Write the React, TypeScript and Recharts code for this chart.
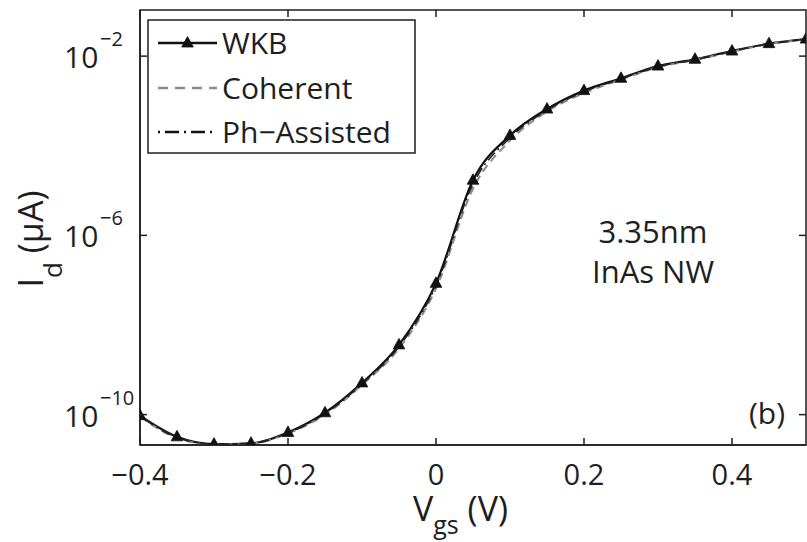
import React from 'react';
import { LineChart, Line, XAxis, YAxis, ReferenceArea } from 'recharts';

// Gate voltage samples (V)
const vgs = [-0.4, -0.35, -0.3, -0.25, -0.2, -0.15, -0.1, -0.05, 0, 0.05, 0.1, 0.15, 0.2, 0.25, 0.3, 0.35, 0.4, 0.45, 0.5];
// Drain current (µA)
const idWkb = [9.5e-11, 3.2e-11, 2.2e-11, 2.3e-11, 4.0e-11, 1.1e-10, 5.1e-10, 3.6e-9, 8.5e-8, 1.7e-5, 1.7e-4, 6.6e-4, 1.7e-3, 3.2e-3, 6.0e-3, 8.5e-3, 1.3e-2, 1.9e-2, 2.4e-2];
const idCoherent = [9.0e-11, 3.0e-11, 2.15e-11, 2.25e-11, 3.8e-11, 1.0e-10, 4.6e-10, 3.0e-9, 6.5e-8, 1.1e-5, 1.3e-4, 5.8e-4, 1.5e-3, 3.0e-3, 5.6e-3, 8.2e-3, 1.25e-2, 1.85e-2, 2.35e-2];
const idPhAssisted = [9.3e-11, 3.1e-11, 2.2e-11, 2.3e-11, 3.9e-11, 1.05e-10, 4.8e-10, 3.3e-9, 7.5e-8, 1.4e-5, 1.5e-4, 6.2e-4, 1.6e-3, 3.1e-3, 5.8e-3, 8.3e-3, 1.28e-2, 1.88e-2, 2.38e-2];

const xTicks = [-0.4, -0.2, 0, 0.2, 0.4];
const xTickLabels = ['\u22120.4', '\u22120.2', '0', '0.2', '0.4'];
const yTicks = [1e-10, 1e-6, 1e-2];
const yTickExponents = ['\u221210', '\u22126', '\u22122'];
const seriesNames = ['WKB', 'Coherent', 'Ph\u2212Assisted'];
const xDomain = [-0.4, 0.5];
const yDomain = [2.1e-11, 1.07e-1];

const data = vgs.map((v, i) => ({ vgs: v, wkb: idWkb[i], coh: idCoherent[i], ph: idPhAssisted[i] }));

const FONT = '"Open Sans", sans-serif';
const INK = '#1e1e1e';
const LEFT = 140, TOP = 10, RIGHT = 806, BOTTOM = 445, TICK = 7;

const Triangle = (props: any) => {
  const { cx, cy } = props;
  if (cx == null || cy == null) return null;
  return <polygon key={`t-${cx}`} points={`${cx},${cy - 6.5} ${cx - 5.8},${cy + 4} ${cx + 5.8},${cy + 4}`} fill="#111" stroke="#111" strokeWidth={0.8} />;
};

const XTick = (props: any) => {
  const { x, payload } = props;
  const idx = xTicks.indexOf(payload.value);
  return (
    <g>
      <line x1={x} x2={x} y1={BOTTOM} y2={BOTTOM - TICK} stroke={INK} strokeWidth={1.5} />
      <line x1={x} x2={x} y1={TOP} y2={TOP + TICK} stroke={INK} strokeWidth={1.5} />
      <text x={x} y={485} textAnchor="middle" fontSize={29} fontFamily={FONT} fill={INK}>{xTickLabels[idx]}</text>
    </g>
  );
};

const YTick = (props: any) => {
  const { y, payload } = props;
  const idx = yTicks.findIndex((t) => Math.abs(Math.log10(t) - Math.log10(payload.value)) < 1e-6);
  return (
    <g>
      <line x1={LEFT} x2={LEFT + TICK} y1={y} y2={y} stroke={INK} strokeWidth={1.5} />
      <line x1={RIGHT} x2={RIGHT - TICK} y1={y} y2={y} stroke={INK} strokeWidth={1.5} />
      <text x={64} y={y + 12} fontSize={30} fontFamily={FONT} fill={INK}>10</text>
      <text x={100} y={y - 10} fontSize={20} fontFamily={FONT} fill={INK}>{yTickExponents[idx]}</text>
    </g>
  );
};

const XLabel = () => (
  <text x={413} y={521} fontSize={34} fontFamily={FONT} fill={INK}>
    <tspan>V</tspan>
    <tspan dy={13} fontSize={25}>{'gs'}</tspan>
    <tspan dy={-13}>{' (V)'}</tspan>
  </text>
);

const YLabel = () => (
  <text x={43} y={239} transform="rotate(-90, 43, 239)" textAnchor="middle" fontSize={34} fontFamily={FONT} fill={INK}>
    <tspan>I</tspan>
    <tspan dy={19} fontSize={26}>d</tspan>
    <tspan dy={-19}>{' (\u03bcA)'}</tspan>
  </text>
);

const LegendBox = () => {
  const rows = [43, 88, 132];
  const x0 = 158, x1 = 217;
  return (
    <g>
      <rect x={148} y={20} width={267} height={133} fill="#fff" stroke={INK} strokeWidth={1.5} />
      <line x1={x0} x2={x1} y1={rows[0]} y2={rows[0]} stroke="#111" strokeWidth={2.4} />
      <Triangle cx={(x0 + x1) / 2} cy={rows[0]} />
      <line x1={x0} x2={x1} y1={rows[1]} y2={rows[1]} stroke="#8c8c8c" strokeWidth={2.4} strokeDasharray="10 7" />
      <line x1={x0} x2={x1} y1={rows[2]} y2={rows[2]} stroke="#111" strokeWidth={2.4} strokeDasharray="2 5 14 5" />
      {seriesNames.map((n, i) => (
        <text key={n} x={222} y={rows[i] + 11} fontSize={30} fontFamily={FONT} fill={INK}>{n}</text>
      ))}
    </g>
  );
};

const Annotations = () => (
  <g fontFamily={FONT} fill={INK}>
    <text x={653} y={243} textAnchor="middle" fontSize={31}>3.35nm</text>
    <text x={653} y={283} textAnchor="middle" fontSize={31}>InAs NW</text>
    <text x={767} y={424} textAnchor="middle" fontSize={30}>(b)</text>
  </g>
);

export default function App() {
  return (
    <div style={{ position: 'absolute', left: 0, top: 0, background: '#fff' }}>
      <LineChart width={807} height={542} data={data} margin={{ top: 10, right: 1, bottom: 0, left: 0 }}>
        <XAxis
          dataKey="vgs"
          type="number"
          domain={xDomain}
          ticks={xTicks}
          allowDataOverflow
          height={97}
          axisLine={{ stroke: INK, strokeWidth: 1.5 }}
          tickLine={false}
          tick={<XTick />}
          label={<XLabel />}
        />
        <YAxis
          type="number"
          scale="log"
          domain={yDomain}
          ticks={yTicks}
          allowDataOverflow
          width={140}
          axisLine={{ stroke: INK, strokeWidth: 1.5 }}
          tickLine={false}
          tick={<YTick />}
          label={<YLabel />}
        />
        <ReferenceArea x1={xDomain[0]} x2={xDomain[1]} y1={yDomain[0]} y2={yDomain[1]} fill="none" stroke={INK} strokeWidth={1.5} ifOverflow="visible" />
        <Line dataKey="wkb" type="monotone" stroke="#111" strokeWidth={2.2} dot={Triangle} activeDot={false} isAnimationActive={false} />
        <Line dataKey="coh" type="monotone" stroke="#8c8c8c" strokeWidth={2} strokeDasharray="8 5" dot={false} activeDot={false} isAnimationActive={false} />
        <Line dataKey="ph" type="monotone" stroke="#222" strokeWidth={1.6} strokeDasharray="2 4 10 4" dot={false} activeDot={false} isAnimationActive={false} />
        <Annotations />
        <LegendBox />
      </LineChart>
    </div>
  );
}
